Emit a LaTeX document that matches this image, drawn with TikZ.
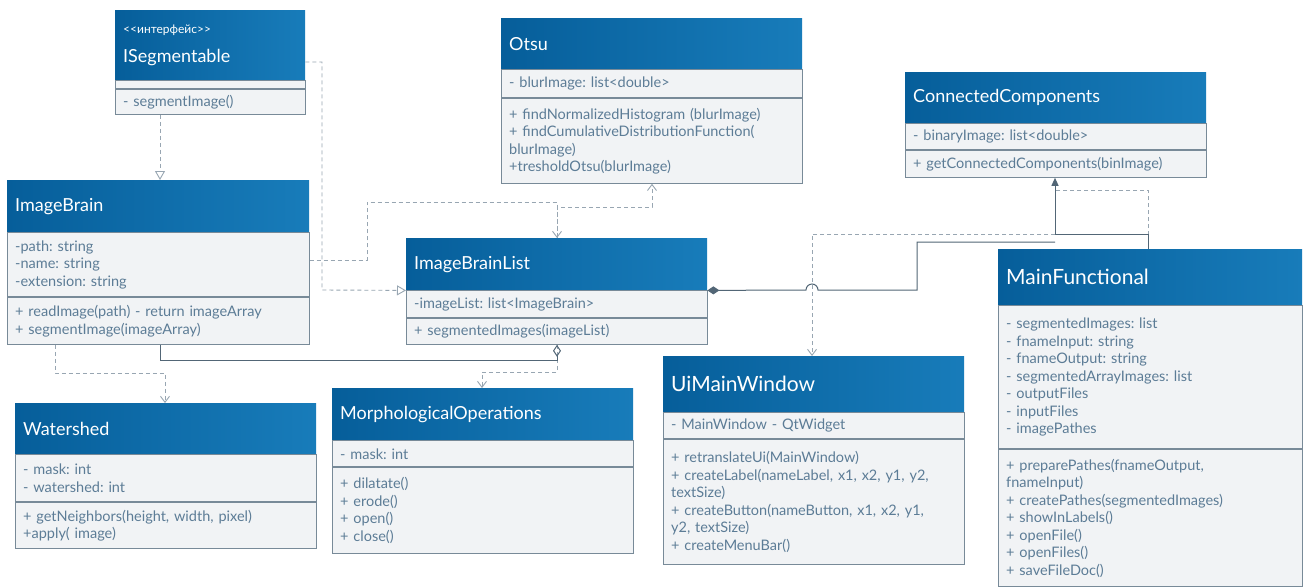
\documentclass[tikz,border=0pt]{standalone}
\usepackage{fontspec}
\setmainfont{Lato}
\usetikzlibrary{positioning, arrows.meta}
\frenchspacing

\definecolor{hdrdark}{RGB}{6,94,154}
\definecolor{hdrlight}{RGB}{24,124,186}
\definecolor{bodyfill}{RGB}{241,243,245}
\definecolor{bodytext}{RGB}{92,124,150}
\definecolor{edgegray}{RGB}{120,138,152}
\definecolor{linkgray}{RGB}{152,166,178}
\definecolor{linkdark}{RGB}{82,102,118}

\tikzset{
  clshead/.style={anchor=north west, left color=hdrdark, right color=hdrlight, text=white, inner xsep=7pt, inner ysep=0pt, align=left, font=\fontsize{18}{21}\selectfont},
  clspart/.style={fill=bodyfill, draw=edgegray, line width=0.7pt, text=bodytext, inner xsep=7pt, inner ysep=0pt, align=left, font=\fontsize{14.5}{17.5}\selectfont},
  stdw/.style={minimum width=301pt, text width=285pt},
  bigtitle/.style={font=\fontsize{21}{24}\selectfont},
  clsdep/.style={draw=linkgray, line width=0.9pt, dash pattern=on 4pt off 3pt, -{Straight Barb[length=6pt,width=9pt]}},
  clsreal/.style={draw=linkgray, line width=0.9pt, dash pattern=on 4pt off 3pt, -{Triangle[open,length=9pt,width=10pt]}},
  clsassoc/.style={draw=linkdark, line width=1pt, -{Triangle[length=8pt,width=7pt]}},
  clsaggr/.style={draw=linkdark, line width=1pt, {Diamond[open,length=12pt,width=8pt]}-},
  clscomp/.style={draw=linkdark, line width=1pt, {Diamond[length=12pt,width=8pt]}-}
}

\begin{document}
\begin{tikzpicture}[x=1pt, y=-1pt]
  \fill[white] (0,0) rectangle (1304,587);
  \useasboundingbox (0,0) rectangle (1304,587);

  \node[clshead, minimum width=190pt, text width=174pt, minimum height=70pt] (iseg) at (115,10) {{\fontsize{12}{14}\selectfont <\kern0pt<интерфейс>\kern0pt>}\\[8pt]ISegmentable};
  \node[clspart, minimum width=190pt, text width=174pt, minimum height=8pt, below=0pt of iseg] (isegAttr) {};
  \node[clspart, minimum width=190pt, text width=174pt, minimum height=25pt, below=0pt of isegAttr] (isegOps) {- segmentImage()};

  \node[clshead, stdw, minimum height=51pt] (otsu) at (501,18) {Otsu};
  \node[clspart, stdw, minimum height=28pt, below=0pt of otsu] (otsuAttr) {- blurImage: list<double>};
  \node[clspart, stdw, minimum height=85pt, below=0pt of otsuAttr] (otsuOps) {+ findNormalizedHistogram (blurImage)\\+ findCumulativeDistributionFunction(\\blurImage)\\+tresholdOtsu(blurImage)};

  \node[clshead, stdw, minimum height=51pt] (cc) at (905,72) {ConnectedComponents};
  \node[clspart, stdw, minimum height=26pt, below=0pt of cc] (ccAttr) {- binaryImage: list<double>};
  \node[clspart, stdw, minimum height=27pt, below=0pt of ccAttr] (ccOps) {+ getConnectedComponents(binImage)};

  \node[clshead, minimum width=302pt, text width=286pt, minimum height=52pt] (ib) at (7,180) {ImageBrain};
  \node[clspart, minimum width=302pt, text width=286pt, minimum height=64pt, below=0pt of ib] (ibAttr) {-path: string\\-name: string\\-extension: string};
  \node[clspart, minimum width=302pt, text width=286pt, minimum height=47pt, below=0pt of ibAttr] (ibOps) {+ readImage(path) - return imageArray\\+ segmentImage(imageArray)};

  \node[clshead, stdw, minimum height=52pt] (ibl) at (406,238) {ImageBrainList};
  \node[clspart, stdw, minimum height=27pt, below=0pt of ibl] (iblAttr) {-imageList: list<ImageBrain>};
  \node[clspart, stdw, minimum height=26pt, below=0pt of iblAttr] (iblOps) {+ segmentedImages(imageList)};

  \node[clshead, stdw, minimum height=51pt] (ws) at (15,403) {Watershed};
  \node[clspart, stdw, minimum height=47pt, below=0pt of ws] (wsAttr) {- mask: int\\- watershed: int};
  \node[clspart, stdw, minimum height=46pt, below=0pt of wsAttr] (wsOps) {+ getNeighbors(height, width, pixel)\\+apply( image)};

  \node[clshead, stdw, minimum height=52pt] (mo) at (332,388) {MorphologicalOperations};
  \node[clspart, stdw, minimum height=26pt, below=0pt of mo] (moAttr) {- mask: int};
  \node[clspart, stdw, minimum height=86pt, below=0pt of moAttr] (moOps) {+ dilatate()\\+ erode()\\+ open()\\+ close()};

  \node[clshead, bigtitle, stdw, minimum height=56pt] (ui) at (663,356) {UiMainWindow};
  \node[clspart, stdw, minimum height=26pt, below=0pt of ui] (uiAttr) {- MainWindow - QtWidget};
  \node[clspart, stdw, minimum height=125pt, below=0pt of uiAttr] (uiOps) {+ retranslateUi(MainWindow)\\+ createLabel(nameLabel, x1, x2, y1, y2,\\textSize)\\+ createButton(nameButton, x1, x2, y1,\\y2, textSize)\\+ createMenuBar()};

  \node[clshead, bigtitle, minimum width=304pt, text width=288pt, minimum height=56pt] (mf) at (998,249) {MainFunctional};
  \node[clspart, minimum width=304pt, text width=288pt, minimum height=143pt, below=0pt of mf] (mfAttr) {- segmentedImages: list\\- fnameInput: string\\-  fnameOutput: string\\- segmentedArrayImages: list\\- outputFiles\\- inputFiles\\- imagePathes};
  \node[clspart, minimum width=304pt, text width=288pt, minimum height=137pt, below=0pt of mfAttr] (mfOps) {+ preparePathes(fnameOutput,\\fnameInput)\\+ createPathes(segmentedImages)\\+ showInLabels()\\+ openFile()\\+ openFiles()\\+ saveFileDoc()};

  \coordinate (ccjoin) at (1055,242);

  \draw[clsreal] (isegOps.south -| 160,0) -- (ib.north -| 160,0);
  \draw[clsreal] (iseg.east |- 0,62) -- (322,62) -- (322,290) -- (ibl.south west);
  \draw[clsdep] (ibAttr.east |- 0,260) -- (367,260) -- (367,202) -- (557,202) -- (ibl.north -| 557,0);
  \draw[clsdep] (ibl.north -| 557,0) -- (557,207) -- (652,207) -- (otsuOps.south -| 652,0);
  \draw[clsdep] (ibOps.south -| 55,0) -- (55,373) -- (165,373) -- (ws.north -| 165,0);
  \draw[clsdep] (iblOps.south -| 557,0) -- (557,372) -- (482,372) -- (mo.north -| 482,0);
  \draw[clsaggr] (iblOps.south -| 557,0) -- (557,360) -- (160,360) -- (ibOps.south -| 160,0);
  \draw[clsdep] (mf.north -| 1148,0) -- (1148,190) -- (1055,190) -- (1055,234) -- (812,234) -- (ui.north -| 812,0);
  \draw[clsassoc] (mf.north -| 1148,0) -- (1148,234) -- (1055,234) -- (ccOps.south -| 1055,0);
  \draw[clscomp] (ibl.south east) -- (806,290) arc[start angle=180, end angle=0, radius=6pt] -- (917,290) -- (917,242) -- (ccjoin);
\end{tikzpicture}
\end{document}
